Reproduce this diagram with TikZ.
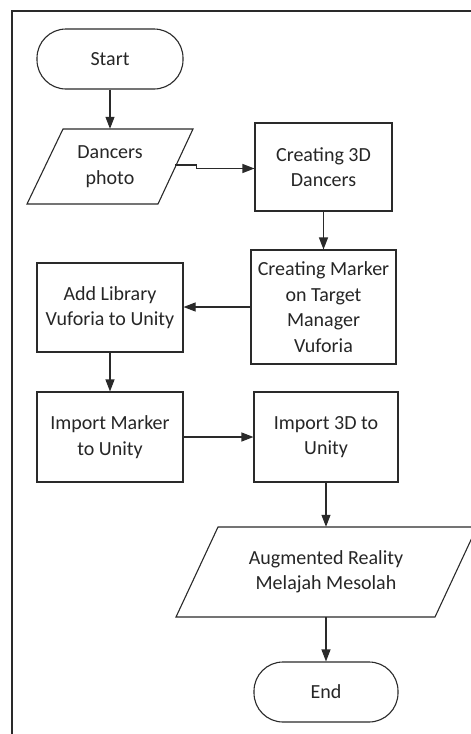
\documentclass[tikz,border=0pt]{standalone}
\usepackage{fontspec}
\setmainfont{Carlito}
\usetikzlibrary{arrows.meta}
\definecolor{lc}{HTML}{2A2A2A}
\begin{document}
\begin{tikzpicture}[x=1pt,y=-1pt,
  every node/.style={font=\fontsize{20}{25.5}\selectfont, text=black!85, align=center, inner sep=1pt},
  proc/.style={draw=lc, line width=1.1pt, rectangle},
  term/.style={draw=lc, line width=1.1pt, rectangle, rounded corners=29pt},
  ioshape/.style={draw=lc, line width=1.1pt, line join=miter},
  arr/.style={draw=lc, line width=1.1pt, -{Triangle[length=12pt,width=9pt]}}]
\useasboundingbox (0,0) rectangle (471,734);
\fill[white] (0,0) rectangle (471,734);
% frame
\draw[lc, line width=1.2pt] (12,740) -- (12,11) -- (480,11);
% nodes
\node[term, minimum width=146pt, minimum height=60pt] (start) at (110,59) {Start};
\draw[ioshape] (63,129) -- (193,129) -- (158,204) -- (27,204) -- cycle;
\node[minimum width=130pt, minimum height=75pt] (dp) at (110,166.5) {Dancers\\photo};
\node[proc, minimum width=137pt, minimum height=88pt] (c3d) at (323.5,167) {Creating 3D\\Dancers};
\node[proc, minimum width=145pt, minimum height=114pt] (cm) at (323.5,307) {Creating Marker\\on Target\\Manager\\Vuforia};
\node[proc, minimum width=146pt, minimum height=89pt] (al) at (110,307.5) {Add Library\\Vuforia to Unity};
\node[proc, minimum width=146pt, minimum height=90pt] (im) at (110,437) {Import Marker\\to Unity};
\node[proc, minimum width=144pt, minimum height=90pt] (i3d) at (326,437) {Import 3D to\\Unity};
\draw[ioshape] (218,527) -- (477,527) -- (435,617) -- (176,617) -- cycle;
\node[minimum width=259pt, minimum height=90pt] (ar) at (326,572) {Augmented Reality\\Melajah Mesolah};
\node[term, minimum width=144pt, minimum height=60pt] (end) at (326,692) {End};
% connectors
\draw[arr] (start) -- (dp);
\draw[arr] ([yshift=1.5pt]dp.east) -- ++(21,0) |- ([yshift=-1.5pt]c3d.west);
\draw[arr] (c3d) -- (cm);
\draw[arr] (cm.west) -- (cm.west -| al.east);
\draw[arr] (al) -- (im);
\draw[arr] (im) -- (i3d);
\draw[arr] (i3d.south) -- (i3d.south |- ar.north);
\draw[arr] (ar.south) -- (ar.south |- end.north);
\end{tikzpicture}
\end{document}
